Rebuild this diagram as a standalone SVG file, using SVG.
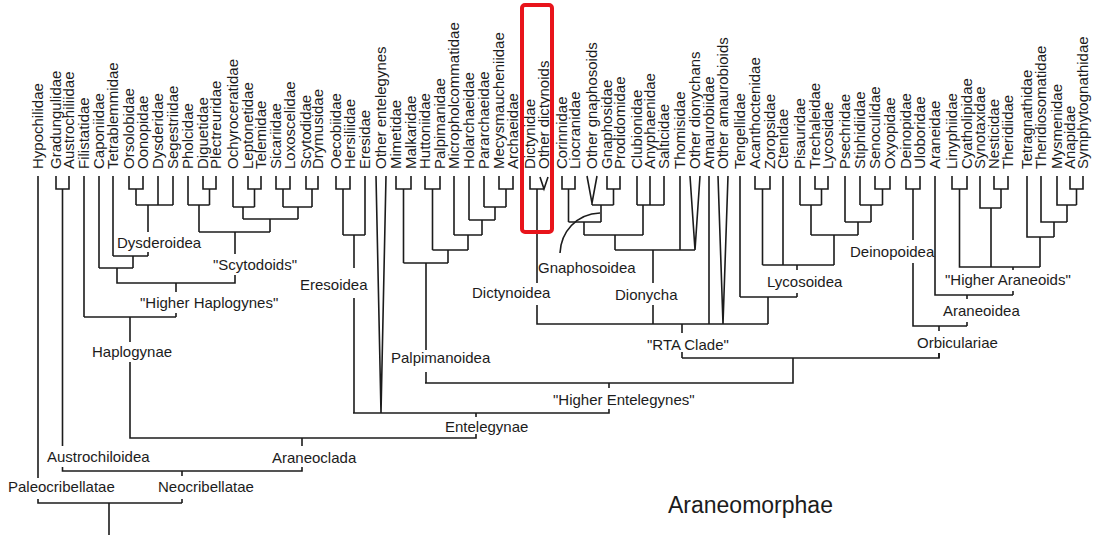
<svg xmlns="http://www.w3.org/2000/svg" width="1094" height="535" viewBox="0 0 1094 535">
<style>
.t{font-family:"Liberation Sans",Arial,sans-serif;font-size:15px;fill:#1c1c1c}
.c{font-family:"Liberation Sans",Arial,sans-serif;font-size:15px;fill:#1c1c1c}
.big{font-family:"Liberation Sans",Arial,sans-serif;font-size:23px;fill:#1c1c1c}
.e path{fill:none;stroke:#1c1c1c;stroke-width:1.6}
</style>
<rect width="1094" height="535" fill="#fff"/>
<g id="tips">
<g id="n-hypochilidae"><text class="t" transform="translate(43,169) rotate(-90)">Hypochilidae</text></g>
<g id="n-gradungulidae"><text class="t" transform="translate(61,169) rotate(-90)">Gradungulidae</text></g>
<g id="n-austrochiliidae"><text class="t" transform="translate(74,169) rotate(-90)">Austrochiliidae</text></g>
<g id="n-filistatidae"><text class="t" transform="translate(89,169) rotate(-90)">Filistatidae</text></g>
<g id="n-caponiidae"><text class="t" transform="translate(104,169) rotate(-90)">Caponiidae</text></g>
<g id="n-tetrablemmidae"><text class="t" transform="translate(118,169) rotate(-90)">Tetrablemmidae</text></g>
<g id="n-orsolobidae"><text class="t" transform="translate(134,169) rotate(-90)">Orsolobidae</text></g>
<g id="n-oonopidae"><text class="t" transform="translate(148,169) rotate(-90)">Oonopidae</text></g>
<g id="n-dysderidae"><text class="t" transform="translate(163,169) rotate(-90)">Dysderidae</text></g>
<g id="n-segestriidae"><text class="t" transform="translate(178,169) rotate(-90)">Segestriidae</text></g>
<g id="n-pholcidae"><text class="t" transform="translate(193,169) rotate(-90)">Pholcidae</text></g>
<g id="n-diguetidae"><text class="t" transform="translate(208,169) rotate(-90)">Diguetidae</text></g>
<g id="n-plectreuridae"><text class="t" transform="translate(221,169) rotate(-90)">Plectreuridae</text></g>
<g id="n-ochyroceratidae"><text class="t" transform="translate(238,169) rotate(-90)">Ochyroceratidae</text></g>
<g id="n-leptonetidae"><text class="t" transform="translate(253,169) rotate(-90)">Leptonetidae</text></g>
<g id="n-telemidae"><text class="t" transform="translate(266,169) rotate(-90)">Telemidae</text></g>
<g id="n-sicariidae"><text class="t" transform="translate(281,169) rotate(-90)">Sicariidae</text></g>
<g id="n-loxoscelidae"><text class="t" transform="translate(295,169) rotate(-90)">Loxoscelidae</text></g>
<g id="n-scytodidae"><text class="t" transform="translate(311,169) rotate(-90)">Scytodidae</text></g>
<g id="n-drymusidae"><text class="t" transform="translate(323,169) rotate(-90)">Drymusidae</text></g>
<g id="n-oecobiidae"><text class="t" transform="translate(341,169) rotate(-90)">Oecobiidae</text></g>
<g id="n-hersiliidae"><text class="t" transform="translate(355,169) rotate(-90)">Hersiliidae</text></g>
<g id="n-eresidae"><text class="t" transform="translate(370,169) rotate(-90)">Eresidae</text></g>
<g id="n-other-entelegynes"><text class="t" transform="translate(386,169) rotate(-90)">Other entelegynes</text></g>
<g id="n-mimetidae"><text class="t" transform="translate(401,169) rotate(-90)">Mimetidae</text></g>
<g id="n-malkaridae"><text class="t" transform="translate(416,169) rotate(-90)">Malkaridae</text></g>
<g id="n-huttoniidae"><text class="t" transform="translate(430,169) rotate(-90)">Huttoniidae</text></g>
<g id="n-palpimanidae"><text class="t" transform="translate(445,169) rotate(-90)">Palpimanidae</text></g>
<g id="n-micropholcommatidae"><text class="t" transform="translate(459,169) rotate(-90)">Micropholcommatidae</text></g>
<g id="n-holarchaeidae"><text class="t" transform="translate(474,169) rotate(-90)">Holarchaeidae</text></g>
<g id="n-pararchaeidae"><text class="t" transform="translate(489,169) rotate(-90)">Pararchaeidae</text></g>
<g id="n-mecysmaucheniidae"><text class="t" transform="translate(504,169) rotate(-90)">Mecysmaucheniidae</text></g>
<g id="n-archaeidae"><text class="t" transform="translate(518,169) rotate(-90)">Archaeidae</text></g>
<g id="n-dictynidae"><text class="t" transform="translate(535,169) rotate(-90)">Dictynidae</text></g>
<g id="n-other-dictynoids"><text class="t" transform="translate(549,169) rotate(-90)">Other dictynoids</text></g>
<g id="n-corinnidae"><text class="t" transform="translate(567,169) rotate(-90)">Corinnidae</text></g>
<g id="n-liocranidae"><text class="t" transform="translate(580,169) rotate(-90)">Liocranidae</text></g>
<g id="n-other-gnaphosoids"><text class="t" transform="translate(597,169) rotate(-90)">Other gnaphosoids</text></g>
<g id="n-gnaphosidae"><text class="t" transform="translate(612,169) rotate(-90)">Gnaphosidae</text></g>
<g id="n-prodidomidae"><text class="t" transform="translate(625,169) rotate(-90)">Prodidomidae</text></g>
<g id="n-clubionidae"><text class="t" transform="translate(642,169) rotate(-90)">Clubionidae</text></g>
<g id="n-anyphaenidae"><text class="t" transform="translate(655,169) rotate(-90)">Anyphaenidae</text></g>
<g id="n-salticidae"><text class="t" transform="translate(669,169) rotate(-90)">Salticidae</text></g>
<g id="n-thomisidae"><text class="t" transform="translate(685,169) rotate(-90)">Thomisidae</text></g>
<g id="n-other-dionychans"><text class="t" transform="translate(700,169) rotate(-90)">Other dionychans</text></g>
<g id="n-amaurobiidae"><text class="t" transform="translate(714,169) rotate(-90)">Amaurobiidae</text></g>
<g id="n-other-amaurobioids"><text class="t" transform="translate(728,169) rotate(-90)">Other amaurobioids</text></g>
<g id="n-tengellidae"><text class="t" transform="translate(745,169) rotate(-90)">Tengellidae</text></g>
<g id="n-acanthoctenidae"><text class="t" transform="translate(760,169) rotate(-90)">Acanthoctenidae</text></g>
<g id="n-zoropsidae"><text class="t" transform="translate(775,169) rotate(-90)">Zoropsidae</text></g>
<g id="n-ctenidae"><text class="t" transform="translate(788,169) rotate(-90)">Ctenidae</text></g>
<g id="n-pisauridae"><text class="t" transform="translate(805,169) rotate(-90)">Pisauridae</text></g>
<g id="n-trechaleidae"><text class="t" transform="translate(820,169) rotate(-90)">Trechaleidae</text></g>
<g id="n-lycosidae"><text class="t" transform="translate(833,169) rotate(-90)">Lycosidae</text></g>
<g id="n-psechridae"><text class="t" transform="translate(850,169) rotate(-90)">Psechridae</text></g>
<g id="n-stiphidiidae"><text class="t" transform="translate(865,169) rotate(-90)">Stiphidiidae</text></g>
<g id="n-senoculidae"><text class="t" transform="translate(880,169) rotate(-90)">Senoculidae</text></g>
<g id="n-oxyopidae"><text class="t" transform="translate(895,169) rotate(-90)">Oxyopidae</text></g>
<g id="n-deinopidae"><text class="t" transform="translate(911,169) rotate(-90)">Deinopidae</text></g>
<g id="n-uloboridae"><text class="t" transform="translate(925,169) rotate(-90)">Uloboridae</text></g>
<g id="n-araneidae"><text class="t" transform="translate(940,169) rotate(-90)">Araneidae</text></g>
<g id="n-linyphiidae"><text class="t" transform="translate(957,169) rotate(-90)">Linyphiidae</text></g>
<g id="n-cyatholipidae"><text class="t" transform="translate(972,169) rotate(-90)">Cyatholipidae</text></g>
<g id="n-synotaxidae"><text class="t" transform="translate(985,169) rotate(-90)">Synotaxidae</text></g>
<g id="n-nesticidae"><text class="t" transform="translate(999,169) rotate(-90)">Nesticidae</text></g>
<g id="n-theridiidae"><text class="t" transform="translate(1013,169) rotate(-90)">Theridiidae</text></g>
<g id="n-tetragnathidae"><text class="t" transform="translate(1032,169) rotate(-90)">Tetragnathidae</text></g>
<g id="n-theridiosomatidae"><text class="t" transform="translate(1046,169) rotate(-90)">Theridiosomatidae</text></g>
<g id="n-mysmenidae"><text class="t" transform="translate(1062,169) rotate(-90)">Mysmenidae</text></g>
<g id="n-anapidae"><text class="t" transform="translate(1075,169) rotate(-90)">Anapidae</text></g>
<g id="n-symphytognathidae"><text class="t" transform="translate(1088,169) rotate(-90)">Symphytognathidae</text></g>
</g>
<g id="clades">
<g id="c-dysderoidea"><text class="c" x="117" y="248">Dysderoidea</text></g>
<g id="c-scytodoids"><text class="c" x="213" y="270">"Scytodoids"</text></g>
<g id="c-higher-haplogynes"><text class="c" x="140" y="308">"Higher Haplogynes"</text></g>
<g id="c-haplogynae"><text class="c" x="92" y="357">Haplogynae</text></g>
<g id="c-eresoidea"><text class="c" x="300" y="290">Eresoidea</text></g>
<g id="c-palpimanoidea"><text class="c" x="391" y="363">Palpimanoidea</text></g>
<g id="c-dictynoidea"><text class="c" x="472" y="298">Dictynoidea</text></g>
<g id="c-gnaphosoidea"><text class="c" x="538" y="273">Gnaphosoidea</text></g>
<g id="c-dionycha"><text class="c" x="615" y="300">Dionycha</text></g>
<g id="c-lycosoidea"><text class="c" x="767" y="287">Lycosoidea</text></g>
<g id="c-deinopoidea"><text class="c" x="850" y="257">Deinopoidea</text></g>
<g id="c-higher-araneoids"><text class="c" x="945" y="285">"Higher Araneoids"</text></g>
<g id="c-araneoidea"><text class="c" x="943" y="316">Araneoidea</text></g>
<g id="c-orbiculariae"><text class="c" x="917" y="348">Orbiculariae</text></g>
<g id="c-rta"><text class="c" x="647" y="350">"RTA Clade"</text></g>
<g id="c-higher-entelegynes"><text class="c" x="553" y="405">"Higher Entelegynes"</text></g>
<g id="c-entelegynae"><text class="c" x="445" y="432">Entelegynae</text></g>
<g id="c-araneoclada"><text class="c" x="272" y="463">Araneoclada</text></g>
<g id="c-austrochiloidea"><text class="c" x="47" y="462">Austrochiloidea</text></g>
<g id="c-paleocribellatae"><text class="c" x="8" y="492">Paleocribellatae</text></g>
<g id="c-neocribellatae"><text class="c" x="158" y="492">Neocribellatae</text></g>
<g id="c-araneomorphae"><text class="big" x="668" y="513">Araneomorphae</text></g>
</g>
<g id="connectors" class="e">
<path d="M38 176V478M38 499V503H182M182 499V503M109 503V535"/>
<path d="M56 176V189H69V176M62.5 189V446M62.5 467V471H302V467M182 471V476M302 438V446"/>
<path d="M130 362V438H476V434M476 413V417M353 413H609V409"/>
<path d="M609 383V388M425 383H793V358M682 358H939V353M682 352V358"/>
<path d="M84 176V317M99 176V268M113 176V256"/>
<path d="M129 176V189H143V176M136 189V205M158 176V205M173 176V205M136 205H173M148 205V232M148 252V256M113 256H148M133 256V268M99 268H133M117 268V283H235V275M176 283V292M176 313V317M84 317H176M130 317V342"/>
<path d="M188 176V205M203 176V189H216V176M209.5 189V205M188 205H209.5M199 205V232"/>
<path d="M233 176V207M248 176V189H261V176M254.5 189V207M233 207H254.5M243 207V219"/>
<path d="M276 176V189H290V176M283 189V207M306 176V189H318V176M312 189V207M283 207H312M298 207V219M243 219H298M270 219V232M199 232H270M235 232V254"/>
<path d="M336 176V189H350V176M343 189V235M365 176V235M343 235H365M354 235V268M354 298V413"/>
<path d="M376 176L381 413L386 176"/>
<path d="M396 176V189H411V176M403.5 189V263M425 176V189H440V176M432.5 189V250M454 176V235M469 176V220M484 176V207M499 176V189H513V176M506 189V207M484 207H506M495 207V220M469 220H495M482 220V235M454 235H482M468 235V250M432.5 250H468M448 250V263M403.5 263H448M426 263V350M426 372V383"/>
<path d="M530 176V189H544M540 177L544 189L548 177M537 189V283M537 305V324H768"/>
<path d="M562 176V189H575V176M568.5 189V222M587 176L592 203V205M597 176L592 203M607 176V189H620V176M613.5 189V205M592 205H613.5M601 205V222M568.5 222H601M584 222V235"/>
<path d="M560 253C561 232 576 214 600 213"/>
<path d="M637 176V205M650 176V205M664 176V205M637 205H664M643 205V235M584 235H643M615 235V250M680 176V250M690 176L695 250L700 176M615 250H695M653 250V283M653 305V324"/>
<path d="M709 176V324M718 176L723 324L728 176M682 324V333"/>
<path d="M740 176V297M755 176V189H770V176M762.5 189V265M783 176V265M815 176V189H828V176M821.5 189V205M800 176V205M800 205H821.5M811 205V235M875 176V189H890V176M882.5 189V205M860 176V205M860 205H882.5M871 205V222M845 176V222M845 222H871M858 222V235M811 235H858M834 235V265M762.5 265H834M797 265V270M797 293V297M740 297H797M768 297V324"/>
<path d="M906 176V189H920V176M913 189V240M913 263V326H967M939 326V331M939 353V358M935 176V295H1013M967 295V299M967 322V326M1013 267V270M1013 291V295"/>
<path d="M952 176V189H967V176M959.5 189V267H1040M994 176V189H1008V176M1001 189V208M980 176V208H1001M991 208V267"/>
<path d="M1070 176V189H1083V176M1076.5 189V205M1057 176V205H1076.5M1067 205V222M1041 176V222H1067M1054 222V237M1027 176V237H1054M1040 237V267"/>
</g>
<rect id="highlight" x="522" y="5" width="30" height="227" rx="3" fill="none" stroke="#e8141b" stroke-width="4"/>
</svg>
